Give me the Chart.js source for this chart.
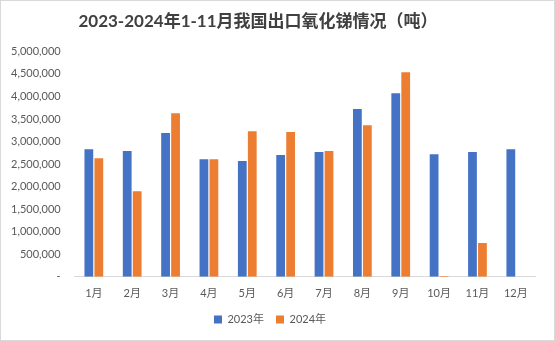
<!DOCTYPE html>
<html>
<head>
<meta charset="utf-8">
<script src="https://cdn.jsdelivr.net/npm/chart.js@4"></script>
<style>
  html, body { margin: 0; padding: 0; background: #fff; }
  #wrap { width: 553px; height: 339px; border: 1px solid #d9d9d9; }
</style>
</head>
<body>
<div id="wrap"><canvas id="c" width="553" height="339"></canvas></div>
<script>
const months = ['1月', '2月', '3月', '4月', '5月', '6月', '7月', '8月', '9月', '10月', '11月', '12月']
const export2023 = [2830000, 2790000, 3190000, 2610000, 2570000, 2700000, 2770000, 3720000, 4070000, 2720000, 2770000, 2830000]
const export2024 = [2630000, 1900000, 3630000, 2610000, 3230000, 3210000, 2790000, 3360000, 4540000, 20000, 750000, null]
const yTicks = [0, 500000, 1000000, 1500000, 2000000, 2500000, 3000000, 3500000, 4000000, 4500000, 5000000]

const font = 'Lato, "Noto Sans CJK SC", sans-serif'

// the title in the original sits a little left of centre
const shiftTitle = {
  id: 'shiftTitle',
  afterLayout(chart) {
    if (chart.titleBlock) chart.titleBlock.right -= 24
  }
}

new Chart(document.getElementById('c'), {
  type: 'bar',
  data: {
    labels: months,
    datasets: [
      { label: '2023年', data: export2023, backgroundColor: '#4472c4' },
      { label: '2024年', data: export2024, backgroundColor: '#ed7d31' }
    ]
  },
  options: {
    responsive: false,
    animation: false,
    layout: { padding: { left: 4, right: 19, top: 4, bottom: 5 } },
    datasets: { bar: { categoryPercentage: 0.52, barPercentage: 0.88 } },
    plugins: {
      title: {
        display: true,
        text: '2023-2024年1-11月我国出口氧化锑情况（吨）',
        color: '#404040',
        font: { family: font, size: 17, weight: 'bold' },
        padding: { top: 6, bottom: 20 }
      },
      legend: {
        position: 'bottom',
        labels: {
          boxWidth: 8, boxHeight: 8, padding: 12,
          color: '#595959',
          font: { family: font, size: 11 }
        }
      },
      tooltip: { enabled: false }
    },
    scales: {
      x: {
        grid: { display: false },
        border: { color: '#d9d9d9' },
        ticks: { color: '#595959', font: { family: font, size: 11 }, padding: 2 }
      },
      y: {
        min: 0, max: 5000000,
        afterBuildTicks: axis => { axis.ticks = yTicks.map(v => ({ value: v })) },
        grid: { display: false },
        border: { display: false },
        ticks: {
          color: '#595959',
          font: { family: font, size: 11 },
          padding: 6,
          callback: v => v === 0 ? '-' : v.toLocaleString('en-US')
        }
      }
    }
  },
  plugins: [shiftTitle]
})
</script>
</body>
</html>
